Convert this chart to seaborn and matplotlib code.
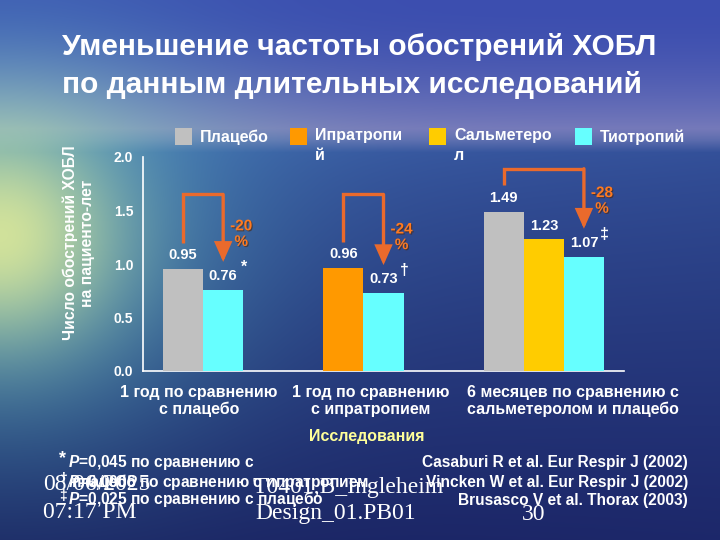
import numpy as np
import pandas as pd
import matplotlib
matplotlib.use("Agg")
import matplotlib.pyplot as plt
import matplotlib.patheffects as pe
from matplotlib.patches import Rectangle
import seaborn as sns

# ---------------- data ----------------
studies = ["1 год по сравнению\nс плацебо",
           "1 год по сравнению\nс ипратропием",
           "6 месяцев по сравнению с\nсальметеролом и плацебо"]
drugs = ["Плацебо", "Ипратропий", "Сальметерол", "Тиотропий"]
legend_labels = ["Плацебо", "Ипратропи\nй", "Сальметеро\nл", "Тиотропий"]
bar_study = [0, 0, 1, 1, 2, 2, 2]
bar_drug = ["Плацебо", "Тиотропий", "Ипратропий", "Тиотропий",
            "Плацебо", "Сальметерол", "Тиотропий"]
bar_value = [0.95, 0.76, 0.96, 0.73, 1.49, 1.23, 1.07]
reductions = ["-20\n%", "-24\n%", "-28\n%"]
signif_marks = ["*", "†", "‡"]
y_ticks = [0.0, 0.5, 1.0, 1.5, 2.0]
title_lines = ["Уменьшение частоты обострений ХОБЛ",
               "по данным длительных исследований"]
y_label = "Число обострений ХОБЛ\nна пациенто-лет"
x_label = "Исследования"
footnote_marks = ["*", "†", "‡"]
footnotes = ["$P$=0,045 по сравнению с",
             "$P$=0,0006 по сравнению с ипратропием",
             "$P$=0,025 по сравнению с плацебо"]
footnote_wrap = "плацебо"
references = ["Casaburi R et al. Eur Respir J (2002)",
              "Vincken W et al. Eur Respir J (2002)",
              "Brusasco V et al. Thorax (2003)"]

# ---------------- style ----------------
colors = ["#C0C0C0", "#FF9900", "#FFCC00", "#66FFFF"]
orange = "#EA6A2C"
label_orange = "#FF7A1F"
W, H = 720, 540

sns.set_theme(style="white")
plt.rcParams["font.family"] = ["Liberation Sans", "DejaVu Sans"]
plt.rcParams["font.weight"] = "bold"
plt.rcParams["mathtext.fontset"] = "custom"
plt.rcParams["mathtext.it"] = "Liberation Sans:italic:bold"
plt.rcParams["mathtext.rm"] = "Liberation Sans:bold"

fig = plt.figure(figsize=(7.2, 5.4), dpi=100)

# ---------------- background (sky / sea) ----------------
yy, xx = np.mgrid[0:H, 0:W].astype(float)
def lerp(c1, c2, t):
    c1 = np.array(c1, float); c2 = np.array(c2, float)
    return c1 + (c2 - c1) * t[..., None]
sky = lerp((60, 78, 175), (128, 130, 188), np.clip(yy / 140, 0, 1) ** 2)
sky_left = np.exp(-((xx / 260) ** 2)) * np.clip(yy / 140, 0, 1) ** 2
sky = sky * (1 - 0.5 * sky_left[..., None]) + np.array([190, 170, 175]) * 0.5 * sky_left[..., None]
sea = lerp((62, 100, 172), (26, 36, 98), np.clip((yy - 140) / 400, 0, 1) ** 0.7)
sea_right = np.clip(xx / W, 0, 1)
sea = sea * (1 - 0.3 * sea_right[..., None]) + np.array([35, 48, 125]) * 0.3 * sea_right[..., None]
blend = np.clip((yy - 128) / 24, 0, 1)[..., None]
img = sky * (1 - blend) + sea * blend
d = np.sqrt((xx / 150) ** 2 + ((yy - 235) / 140) ** 2)
g2 = 0.65 * np.exp(-(d / 1.5) ** 2)[..., None]
img = img * (1 - g2) + np.array([90, 195, 205]) * g2
g1 = 0.85 * np.exp(-(d / 0.75) ** 2)[..., None]
img = img * (1 - g1) + np.array([232, 238, 150]) * g1
img = np.clip(img, 0, 255).astype(np.uint8)
bgax = fig.add_axes([0, 0, 1, 1])
bgax.imshow(img, aspect="auto", interpolation="bilinear")
bgax.axis("off")
bgax.set_zorder(-10)

# ---------------- bars ----------------
group_centers = [0.375, 1.375, 2.5]
slot = 0.25
counts = [bar_study.count(g) for g in range(len(studies))]
pos = []
seen = [0] * len(studies)
for g in bar_study:
    k = seen[g]; seen[g] += 1
    pos.append(group_centers[g] + (k - (counts[g] - 1) / 2) * slot)
df = pd.DataFrame({"pos": pos, "value": bar_value, "drug": bar_drug, "study": bar_study})

ax = fig.add_axes([143 / W, 1 - 371 / H, (624 - 143) / W, (371 - 157) / H])
ax.set_facecolor("none")
sns.barplot(data=df, x="pos", y="value", hue="drug", hue_order=drugs,
            palette=dict(zip(drugs, colors)), native_scale=True, dodge=False,
            width=1.0, linewidth=0, saturation=1, legend=False, ax=ax, zorder=3)
ax.set_xlim(0, 3)
ax.set_ylim(0, 2)
ax.set_xlabel(""); ax.set_ylabel("")
for s in ["top", "right"]:
    ax.spines[s].set_visible(False)
for s in ["left", "bottom"]:
    ax.spines[s].set_color("white"); ax.spines[s].set_linewidth(1.2)
ax.set_yticks(y_ticks, [f"{v:.1f}" for v in y_ticks])
ax.tick_params(axis="y", colors="white", direction="out", length=4, width=1.2,
               labelsize=10, pad=3)
for t in ax.get_yticklabels():
    t.set_fontweight("bold")
label_pos = [0.35, 1.42, 2.68]
ax.set_xticks(label_pos, studies)
ax.set_xticks([0, 0.875, 1.875, 3.0], minor=True)
ax.tick_params(axis="x", which="major", length=0, colors="white", labelsize=11.5, pad=10)
ax.tick_params(axis="x", which="minor", length=5, width=1.2, color="white", direction="out")
for t in ax.get_xticklabels():
    t.set_fontweight("bold"); t.set_linespacing(1.15)
ax.grid(False)

# value labels
for p, v in zip(pos, bar_value):
    ax.annotate(f"{v:.2f}", (p, v), xytext=(0, 10), textcoords="offset points",
                ha="center", va="center", color="white", fontsize=10.5, fontweight="bold")

# bracket arrows
bracket_tops = [1.65, 1.65, 1.89]
for g in range(len(studies)):
    idx = [i for i, s in enumerate(bar_study) if s == g]
    i0, i1 = idx[0], idx[-1]
    x0, x1 = pos[i0], pos[i1]
    start = bar_value[i0] + 0.25
    tip = bar_value[i1] + 0.26
    top = bracket_tops[g]
    ax.plot([x0, x0, x1], [start, top, top], color=orange, lw=2.4,
            solid_joinstyle="miter", solid_capstyle="butt", zorder=4)
    ax.annotate("", xy=(x1, tip), xytext=(x1, top),
                arrowprops=dict(arrowstyle="-|>,head_length=0.9,head_width=0.4",
                                color=orange, lw=2.4, shrinkA=0, shrinkB=0,
                                joinstyle="miter"), zorder=4)
    ax.annotate(reductions[g], (x1, tip), xytext=(13, 20), textcoords="offset points",
                ha="center", va="center", color=label_orange, fontsize=11,
                fontweight="bold", linespacing=1.15,
                path_effects=[pe.withSimplePatchShadow(offset=(0.8, -0.8), alpha=0.6)])
    ax.annotate(signif_marks[g], (x1, tip), xytext=(15, -4), textcoords="offset points",
                ha="center", va="center", color="white", fontsize=11.5, fontweight="bold")

# ---------------- texts ----------------
def fx(x): return x / W
def fy(y): return 1 - y / H

for line, y in zip(title_lines, [47, 85]):
    fig.text(fx(62), fy(y), line, ha="left", va="center", color="white",
             fontsize=21.5, fontweight="bold")

legend_x = [175, 290, 429, 575]
for lx, lab, c in zip(legend_x, legend_labels, colors):
    fig.patches.append(Rectangle((fx(lx), fy(145)), 17 / W, 17 / H, transform=fig.transFigure,
                                 facecolor=c, edgecolor="none"))
    if "\n" in lab:
        fig.text(fx(lx + 25), fy(128), lab, ha="left", va="top",
                 color="white", fontsize=11.5, fontweight="bold", linespacing=1.4)
    else:
        fig.text(fx(lx + 25), fy(137), lab, ha="left", va="center",
                 color="white", fontsize=11.5, fontweight="bold")

fig.text(fx(79), fy(243), y_label, rotation=90, ha="center", va="center",
         color="white", fontsize=11.3, fontweight="bold", linespacing=1.2)
fig.text(fx(367), fy(437), x_label, ha="center", va="center", color="#FFFF99",
         fontsize=11.5, fontweight="bold")

# footer (slide template)
serif = ["Liberation Serif", "DejaVu Serif"]
fig.text(fx(43), fy(485), "08/06/2025", family=serif, fontsize=17, color="white",
         ha="left", va="center", fontweight="normal")
fig.text(fx(43), fy(513), "07:17 PM", family=serif, fontsize=17, color="white",
         ha="left", va="center", fontweight="normal")
fig.text(fx(253), fy(487), "T0401,B_Ingleheim", family=serif, fontsize=17, color="white",
         ha="left", va="center", fontweight="normal")
fig.text(fx(255), fy(513), "Design_01.PB01", family=serif, fontsize=17, color="white",
         ha="left", va="center", fontweight="normal")
fig.text(fx(534), fy(515), "30", family=serif, fontsize=17, color="white",
         ha="center", va="center", fontweight="normal")

for mark, note, y in zip(footnote_marks, footnotes, [462, 482, 499]):
    fig.text(fx(59), fy(y - 3), mark, ha="left", va="center", color="white",
             fontsize=13 if mark == "*" else 10, fontweight="bold")
    fig.text(fx(68), fy(y), note, ha="left", va="center", color="white",
             fontsize=11.2, fontweight="bold")
fig.text(fx(72), fy(482), footnote_wrap, ha="left", va="center", color="white",
         fontsize=11.2, fontweight="bold")
for ref, y in zip(references, [462, 482, 500]):
    fig.text(fx(688), fy(y), ref, ha="right", va="center", color="white",
             fontsize=11.2, fontweight="bold")

fig.savefig("out.png", dpi=100)
